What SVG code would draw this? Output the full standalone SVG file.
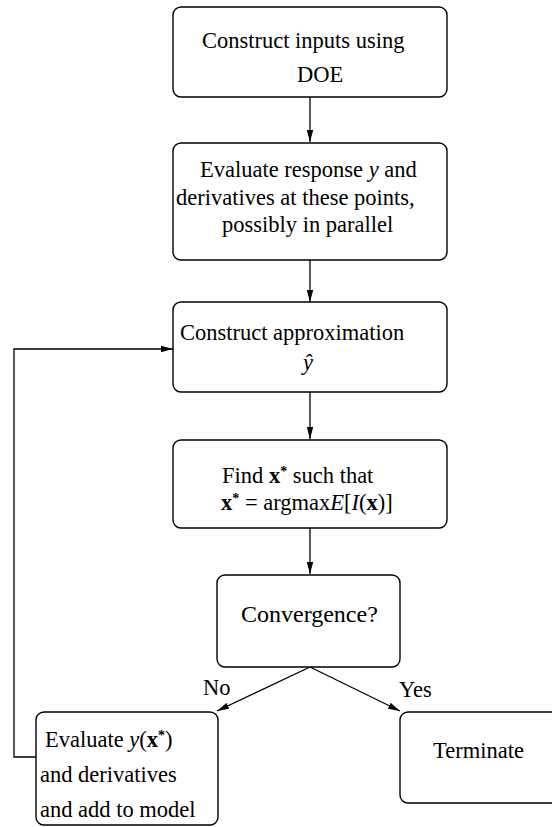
<svg xmlns="http://www.w3.org/2000/svg" width="552" height="827" viewBox="0 0 552 827">
<defs>
<style>
.box{fill:#fff;stroke:#000;stroke-width:1.4}
.t{font-family:"Liberation Serif","Times New Roman",serif;font-size:22.5px;fill:#000}
.i{font-style:italic}
.b{font-weight:bold}
.sup{font-size:14px}
.c{fill:none;stroke:#000;stroke-width:1.3}
</style>
<marker id="ah" viewBox="0 0 12 8" refX="12" refY="4" markerWidth="12" markerHeight="8" markerUnits="userSpaceOnUse" orient="auto">
<path d="M0,0.8 L12,4 L0,7.2 Z" fill="#000"/>
</marker>
</defs>
<rect width="552" height="827" fill="#fff"/>
<g id="connectors">
<line class="c" x1="310" y1="97" x2="310" y2="142" marker-end="url(#ah)"/>
<line class="c" x1="310" y1="260" x2="310" y2="302" marker-end="url(#ah)"/>
<line class="c" x1="310" y1="392" x2="310" y2="439" marker-end="url(#ah)"/>
<line class="c" x1="310" y1="528" x2="310" y2="574" marker-end="url(#ah)"/>
<line class="c" x1="310" y1="667" x2="217" y2="711" marker-end="url(#ah)"/>
<line class="c" x1="310" y1="667" x2="400" y2="711" marker-end="url(#ah)"/>
<polyline class="c" points="36,757 14,757 14,349 173,349" marker-end="url(#ah)"/>
<text class="t" x="203" y="695">No</text>
<text class="t" x="399" y="697">Yes</text>
</g>
<g id="n1">
<rect class="box" x="173" y="7" width="274" height="90" rx="8"/>
<text class="t" x="202" y="48">Construct inputs using</text>
<text class="t" x="297" y="82">DOE</text>
</g>
<g id="n2">
<rect class="box" x="173" y="143" width="274" height="117" rx="8"/>
<text class="t" x="200" y="177">Evaluate response <tspan class="i">y</tspan> and</text>
<text class="t" x="176" y="205">derivatives at these points,</text>
<text class="t" x="222" y="232">possibly in parallel</text>
</g>
<g id="n3">
<rect class="box" x="173" y="302" width="274" height="90" rx="8"/>
<text class="t" x="180" y="340">Construct approximation</text>
<text class="t i" x="303" y="370">ŷ</text>
</g>
<g id="n4">
<rect class="box" x="173" y="440" width="274" height="88" rx="8"/>
<text class="t" x="222" y="483">Find <tspan class="b">x</tspan><tspan class="sup b" dy="-7">*</tspan><tspan dy="7"> such that</tspan></text>
<text class="t" x="221" y="510"><tspan class="b">x</tspan><tspan class="sup b" dy="-7">*</tspan><tspan dy="7"> = argmax</tspan><tspan class="i">E</tspan>[<tspan class="i">I</tspan>(<tspan class="b">x</tspan>)]</text>
</g>
<g id="n5">
<rect class="box" x="217" y="575" width="183" height="92" rx="8"/>
<text class="t" x="241" y="622" style="font-size:24px">Convergence?</text>
</g>
<g id="n6">
<rect class="box" x="36" y="712" width="182" height="113" rx="8"/>
<text class="t" x="45" y="747">Evaluate <tspan class="i">y</tspan>(<tspan class="b">x</tspan><tspan class="sup b" dy="-7">*</tspan><tspan dy="7">)</tspan></text>
<text class="t" x="40" y="782">and derivatives</text>
<text class="t" x="40" y="817">and add to model</text>
</g>
<g id="n7">
<rect class="box" x="400" y="712" width="160" height="91" rx="8"/>
<text class="t" x="433" y="758">Terminate</text>
</g>
</svg>
